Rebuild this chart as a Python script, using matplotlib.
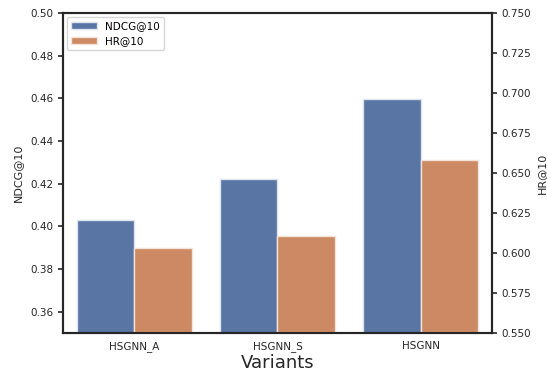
import matplotlib
matplotlib.use("Agg")
import matplotlib.pyplot as plt
import numpy as np

variants = ["HSGNN_A", "HSGNN_S", "HSGNN"]
ndcg = [0.4032, 0.4222, 0.4599]
hr = [0.6031, 0.6106, 0.6583]

blue = "#5975a4"
orange = "#cc8963"
dark = "#262626"

plt.rcParams["font.family"] = ["DejaVu Sans"]
fig = plt.figure(figsize=(5.47, 3.77), dpi=100)
ax = fig.add_axes([0.115, 0.1167, 0.7845, 0.8488])
ax2 = ax.twinx()

x = np.arange(len(variants))
w = 0.4
b1 = ax.bar(x - w / 2, ndcg, width=w, color=blue, edgecolor="#dde3ee", linewidth=1.0, label="NDCG@10", zorder=2)
b2 = ax2.bar(x + w / 2, hr, width=w, color=orange, edgecolor="#f3e3da", linewidth=1.0, label="HR@10", zorder=2)

ax.set_xlim(-0.5, 2.5)
ax.set_ylim(0.35, 0.50)
ax2.set_ylim(0.55, 0.75)
ax.set_yticks(np.arange(0.36, 0.501, 0.02))
ax2.set_yticks(np.arange(0.55, 0.751, 0.025))
ax.set_yticklabels([f"{v:.2f}" for v in np.arange(0.36, 0.501, 0.02)])
ax2.set_yticklabels([f"{v:.3f}" for v in np.arange(0.55, 0.751, 0.025)])
ax.set_xticks(x)
ax.set_xticklabels(variants)

for a in (ax, ax2):
    for s in a.spines.values():
        s.set_linewidth(1.5)
        s.set_color(dark)
    a.tick_params(axis="both", labelsize=7.5, length=3.5, width=1.2, colors=dark, labelcolor=dark)
ax.tick_params(axis="x", length=0, pad=6)

ax.set_xlabel("Variants", fontsize=13, color=dark, labelpad=1)
ax.set_ylabel("NDCG@10", fontsize=8, color=dark, labelpad=5)
ax2.set_ylabel("HR@10", fontsize=8, color=dark)

ax.legend(handles=[b1, b2], loc="upper left", fontsize=7.5, frameon=True,
          edgecolor="#cccccc", fancybox=True, handlelength=2.5,
          borderaxespad=0.35)

fig.savefig("out.png", dpi=100)
